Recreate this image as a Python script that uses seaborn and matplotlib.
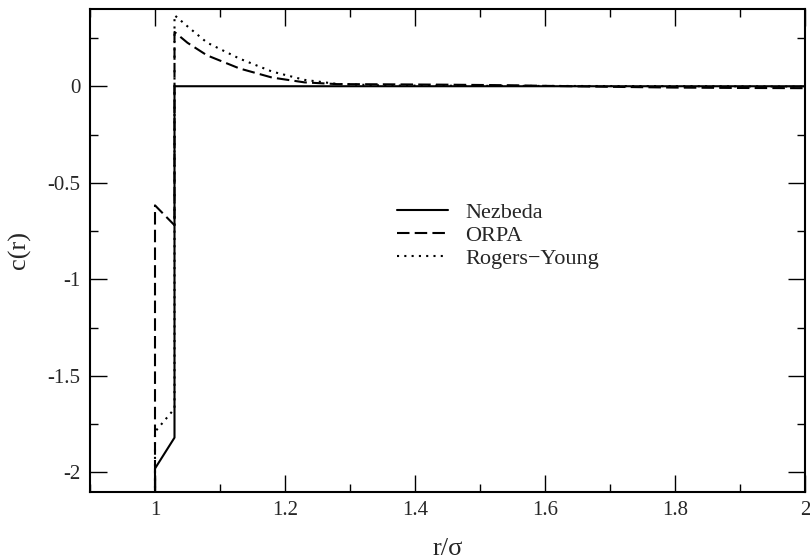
import numpy as np
import pandas as pd
import matplotlib
matplotlib.use("Agg")
import matplotlib.pyplot as plt
import seaborn as sns
from matplotlib.ticker import MultipleLocator

# данные
r_nezbeda = [1.0, 1.0, 1.03, 1.03, 1.2, 1.5, 1.8, 2.0]
c_nezbeda = [-2.6, -1.98, -1.82, 0.0, 0.0, 0.0, 0.0, 0.0]

r_orpa = [1.0, 1.0, 1.03, 1.03, 1.05, 1.08, 1.13, 1.18, 1.23, 1.28, 1.35, 1.45,
          1.55, 1.6, 1.7, 1.8, 1.9, 2.0]
c_orpa = [-2.6, -0.617, -0.72, 0.281, 0.225, 0.16, 0.092, 0.045, 0.02, 0.011, 0.01,
          0.008, 0.005, 0.002, -0.003, -0.007, -0.009, -0.01]

r_ry = [1.0, 1.0, 1.03, 1.03, 1.05, 1.08, 1.13, 1.18, 1.23, 1.28, 1.35, 1.5,
        1.7, 1.85, 2.0]
c_ry = [-2.6, -1.79, -1.67, 0.368, 0.31, 0.226, 0.143, 0.076, 0.033, 0.012, 0.004,
        0.002, 0.001, 0.0, -0.002]

labels = ["Nezbeda", "ORPA", "Rogers\u2212Young"]

df = pd.concat([
    pd.DataFrame({"r": r_nezbeda, "c": c_nezbeda, "model": labels[0]}),
    pd.DataFrame({"r": r_orpa, "c": c_orpa, "model": labels[1]}),
    pd.DataFrame({"r": r_ry, "c": c_ry, "model": labels[2]}),
])

sns.set_style("ticks")
plt.rcParams["font.family"] = ["Liberation Serif", "DejaVu Serif"]
plt.rcParams["axes.unicode_minus"] = False

fig = plt.figure(figsize=(8.1, 5.6), dpi=100)
ax = fig.add_axes([90 / 810, (560 - 491.7) / 560, 715 / 810, 482.7 / 560])

for name, grp in df.groupby("model", sort=False):
    sns.lineplot(data=grp, x="r", y="c", ax=ax, color="black", lw=1.5,
                 sort=False, estimator=None, label=name)
# стили линий вручную
for line, name in zip(ax.get_lines(), labels):
    if name == labels[1]:
        line.set_dashes((6, 2.5))
    elif name == labels[2]:
        line.set_dashes((1, 2.5))

ax.set_xlim(0.9, 2.0)
ax.set_ylim(-2.1, 0.4)
ax.xaxis.set_minor_locator(MultipleLocator(0.1))
ax.yaxis.set_minor_locator(MultipleLocator(0.25))
ax.set_xticks([1.0, 1.2, 1.4, 1.6, 1.8, 2.0])
ax.set_xticklabels(["1", "1.2", "1.4", "1.6", "1.8", "2"])
ax.set_yticks([-2, -1.5, -1, -0.5, 0])
ax.set_yticklabels(["-2", "-1.5", "-1", "-0.5", "0"])

ax.tick_params(which="both", direction="in", top=True, right=True,
               labelsize=15, width=1, color="black")
ax.tick_params(which="major", length=12, pad=7)
ax.tick_params(which="minor", length=6)
for sp in ax.spines.values():
    sp.set_linewidth(1.5)
    sp.set_color("black")

ax.set_xlabel("r/\u03c3", fontsize=19, labelpad=13)
ax.set_ylabel("c(r)", fontsize=19, labelpad=12)

ax.legend(loc="upper left", bbox_to_anchor=(0.429, 0.599), frameon=False,
          fontsize=16, handlelength=2.3, handletextpad=0.8,
          labelspacing=0.1, borderpad=0, borderaxespad=0)

fig.savefig("out.png", dpi=100)
